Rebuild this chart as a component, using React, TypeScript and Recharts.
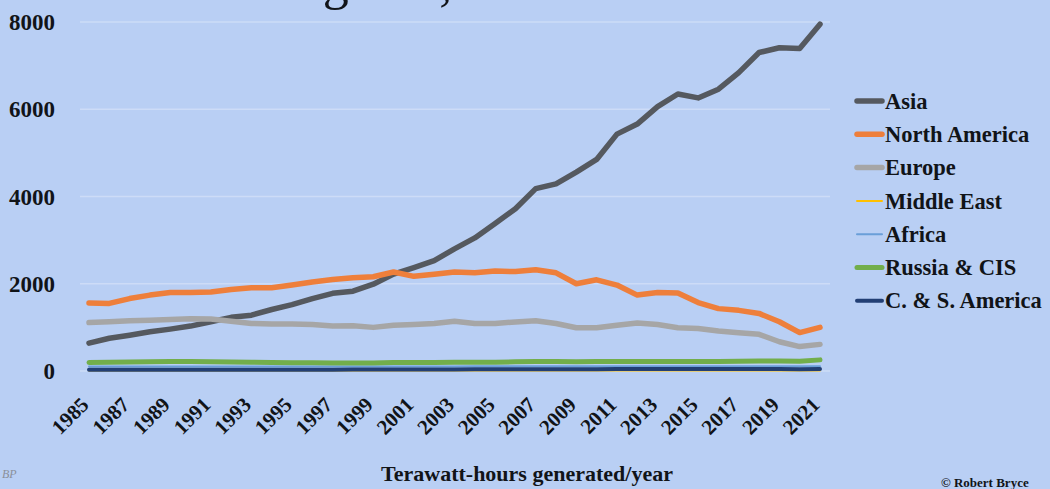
import React from 'react';
import { LineChart, Line, XAxis, YAxis, CartesianGrid } from 'recharts';

const years = [
  1985, 1986, 1987, 1988, 1989, 1990, 1991, 1992, 1993, 1994, 1995, 1996, 1997,
  1998, 1999, 2000, 2001, 2002, 2003, 2004, 2005, 2006, 2007, 2008, 2009, 2010,
  2011, 2012, 2013, 2014, 2015, 2016, 2017, 2018, 2019, 2020, 2021,
];

const asia = [
  640, 750, 820, 900, 960, 1030, 1130, 1230, 1280, 1410, 1520, 1660, 1780, 1830,
  1990, 2220, 2370, 2530, 2800, 3050, 3380, 3720, 4180, 4290, 4560, 4850, 5430,
  5660, 6060, 6350, 6260, 6460, 6840, 7300, 7410, 7390, 7950,
];

const northAmerica = [
  1560, 1550, 1660, 1740, 1800, 1800, 1810, 1870, 1910, 1910, 1970, 2040, 2095,
  2140, 2160, 2270, 2170, 2220, 2270, 2250, 2290, 2280, 2320, 2250, 2000, 2090,
  1970, 1740, 1800, 1790, 1570, 1430, 1390, 1320, 1130, 880, 1000,
];

const europe = [
  1110, 1130, 1150, 1165, 1180, 1195, 1190, 1140, 1090, 1075, 1075, 1065, 1030,
  1036, 1000, 1050, 1065, 1090, 1140, 1090, 1090, 1125, 1150, 1090, 990, 990,
  1050, 1100, 1065, 990, 975, 915, 875, 840, 670, 560, 610,
];

const middleEast = [
  10, 10, 10, 10, 10, 10, 10, 10, 10, 10, 10, 10, 10, 10, 10, 10, 10, 10, 10, 10,
  10, 10, 10, 10, 10, 10, 10, 10, 10, 10, 10, 10, 10, 10, 10, 10, 10,
];

const africa = [
  105, 105, 105, 105, 105, 105, 105, 105, 105, 105, 105, 105, 105, 105, 105, 105,
  105, 105, 105, 110, 110, 110, 110, 110, 110, 110, 110, 110, 110, 110, 110, 110,
  110, 110, 110, 110, 110,
];

const russiaCis = [
  195, 200, 205, 210, 215, 215, 210, 205, 200, 195, 190, 190, 185, 185, 185, 195,
  195, 195, 200, 200, 200, 210, 215, 220, 210, 215, 215, 220, 215, 215, 215, 220,
  225, 230, 230, 225, 255,
];

const csAmerica = [
  30, 30, 30, 30, 30, 30, 30, 30, 30, 30, 30, 30, 30, 35, 35, 35, 35, 35, 35, 40,
  40, 40, 40, 40, 40, 40, 45, 45, 45, 45, 45, 45, 45, 45, 45, 40, 45,
];

const yTicks = [0, 2000, 4000, 6000, 8000];

const series = [
  { key: 'Asia', values: asia, color: '#55595f', width: 5.5 },
  { key: 'North America', values: northAmerica, color: '#ee7f3b', width: 5.5 },
  { key: 'Europe', values: europe, color: '#a6a6a6', width: 5.5 },
  { key: 'Middle East', values: middleEast, color: '#ffc000', width: 2 },
  { key: 'Africa', values: africa, color: '#6a9fd8', width: 2 },
  { key: 'Russia & CIS', values: russiaCis, color: '#72ae4b', width: 5 },
  { key: 'C. & S. America', values: csAmerica, color: '#223f74', width: 4 },
];

const data = years.map((y, i) => {
  const row: Record<string, number | string> = { year: String(y) };
  series.forEach((s) => {
    row[s.key] = s.values[i];
  });
  return row;
});

const serif = '"Liberation Serif", "Times New Roman", serif';
const ink = '#111418';

const XTick = (props: any) => {
  const { x, y, payload } = props;
  return (
    <g transform={`translate(${x + 1},${y + 27}) rotate(-45)`}>
      <text
        x={0}
        y={0}
        textAnchor="end"
        fill={ink}
        fontFamily={serif}
        fontWeight="bold"
        fontSize={21}
      >
        {payload.value}
      </text>
    </g>
  );
};

export default function App() {
  return (
    <div
      style={{
        position: 'absolute',
        left: 0,
        top: 0,
        width: 1050,
        height: 489,
        background: '#b9cff4',
        overflow: 'hidden',
      }}
    >
      <LineChart
        width={1050}
        height={489}
        data={data}
        margin={{ top: 22, right: 220, bottom: 58, left: 0 }}
      >
        <CartesianGrid vertical={false} stroke="#cddcf7" strokeWidth={1.5} />
        <XAxis
          dataKey="year"
          interval={1}
          height={60}
          axisLine={false}
          tickLine={false}
          padding={{ left: 9, right: 10 }}
          tick={<XTick />}
        />
        <YAxis
          width={80}
          domain={[0, 8000]}
          ticks={yTicks}
          axisLine={false}
          tickLine={false}
          tickSize={6}
          tickMargin={19}
          tick={{
            fill: ink,
            fontSize: 23,
            fontWeight: 'bold',
            fontFamily: serif,
          }}
        />
        {series.map((s) => (
          <Line
            key={s.key}
            type="linear"
            dataKey={s.key}
            stroke={s.color}
            strokeWidth={s.width}
            dot={false}
            activeDot={false}
            strokeLinejoin="round"
            strokeLinecap="round"
            isAnimationActive={false}
          />
        ))}
      </LineChart>
      <svg
        width={1050}
        height={489}
        style={{ position: 'absolute', left: 0, top: 0, pointerEvents: 'none' }}
      >
        <text
          x={253}
          y={-1.5}
          fill={ink}
          fontFamily={serif}
          fontSize={52}
          letterSpacing={6}
        >
          Region, 1985-2021
        </text>
        {series.map((s, i) => {
          const cy = 101 + i * 33.3;
          return (
            <g key={s.key}>
              <line
                x1={857}
                x2={882}
                y1={cy}
                y2={cy}
                stroke={s.color}
                strokeWidth={s.width}
                strokeLinecap="round"
              />
              <text
                x={885}
                y={cy}
                dy="0.34em"
                fill={ink}
                fontFamily={serif}
                fontWeight="bold"
                fontSize={22.5}
              >
                {s.key}
              </text>
            </g>
          );
        })}
        <text
          x={527}
          y={481}
          textAnchor="middle"
          fill={ink}
          fontFamily={serif}
          fontWeight="bold"
          fontSize={22}
        >
          Terawatt-hours generated/year
        </text>
        <text
          x={2}
          y={478}
          fill="#8a8f9a"
          fontFamily={serif}
          fontStyle="italic"
          fontSize={12}
        >
          BP
        </text>
        <text
          x={941}
          y={487}
          fill={ink}
          fontFamily={serif}
          fontWeight="bold"
          fontSize={13}
        >
          © Robert Bryce
        </text>
      </svg>
    </div>
  );
}
